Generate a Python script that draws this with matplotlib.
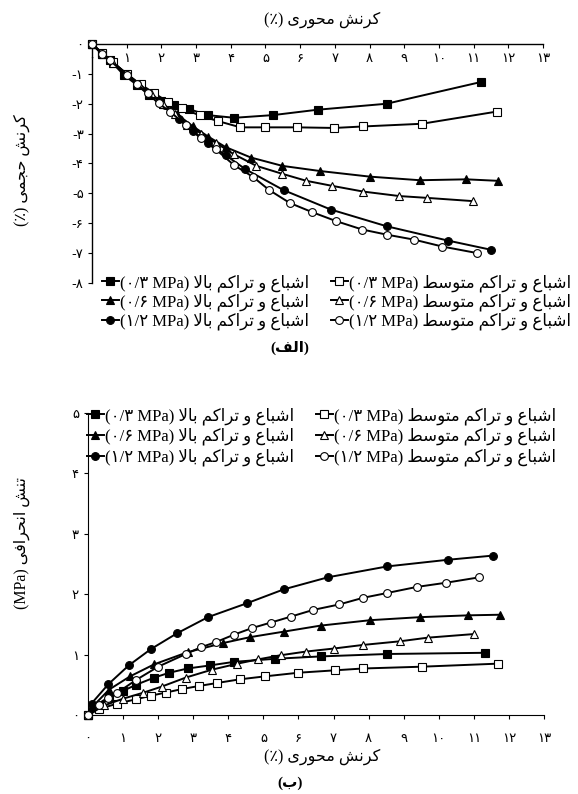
import matplotlib
matplotlib.use('Agg')
import matplotlib.pyplot as plt
from matplotlib import font_manager, ft2font

# ---------------- data ----------------
# top chart (الف): volumetric strain (%) vs axial strain (%)
top_high_03_x = [0, 0.28, 0.52, 0.93, 1.31, 1.63, 2.0, 2.35, 2.8, 3.33, 4.1, 5.22, 6.5, 8.49, 11.22]
top_high_03_y = [0, -0.33, -0.55, -1.05, -1.38, -1.7, -1.92, -2.05, -2.18, -2.38, -2.47, -2.38, -2.2, -2.0, -1.27]
top_med_03_x = [0, 0.3, 0.6, 1.0, 1.4, 1.8, 2.2, 2.6, 3.1, 3.63, 4.28, 4.98, 5.92, 6.99, 7.82, 9.51, 11.68]
top_med_03_y = [0, -0.3, -0.6, -1.0, -1.35, -1.65, -1.95, -2.15, -2.39, -2.58, -2.79, -2.79, -2.79, -2.81, -2.76, -2.67, -2.26]
top_high_06_x = [0, 0.3, 0.6, 1.0, 1.35, 1.7, 2.05, 2.45, 2.9, 3.35, 3.85, 4.58, 5.49, 6.56, 8.01, 9.45, 10.79, 11.70]
top_high_06_y = [0, -0.33, -0.62, -1.02, -1.35, -1.68, -2.0, -2.35, -2.75, -3.1, -3.45, -3.8, -4.08, -4.25, -4.44, -4.56, -4.53, -4.58]
top_med_06_x = [0, 0.3, 0.6, 1.0, 1.35, 1.7, 2.05, 2.4, 2.75, 3.15, 3.56, 4.09, 4.74, 5.47, 6.18, 6.93, 7.82, 8.86, 9.65, 10.99]
top_med_06_y = [0, -0.32, -0.62, -1.0, -1.33, -1.65, -2.0, -2.35, -2.7, -3.0, -3.3, -3.69, -4.08, -4.34, -4.58, -4.75, -4.94, -5.09, -5.15, -5.26]
top_high_12_x = [0, 0.3, 0.6, 1.0, 1.35, 1.7, 2.1, 2.5, 2.9, 3.33, 3.85, 4.42, 5.52, 6.88, 8.49, 10.26, 11.51]
top_high_12_y = [0, -0.32, -0.62, -1.0, -1.35, -1.68, -2.05, -2.5, -2.9, -3.3, -3.72, -4.19, -4.89, -5.54, -6.1, -6.58, -6.89]
top_med_12_x = [0, 0.28, 0.52, 1.0, 1.29, 1.6, 1.92, 2.26, 2.7, 3.13, 3.57, 4.1, 4.63, 5.11, 5.7, 6.35, 7.04, 7.79, 8.49, 9.29, 10.1, 11.11]
top_med_12_y = [0, -0.33, -0.55, -1.05, -1.33, -1.65, -1.99, -2.27, -2.72, -3.15, -3.53, -4.06, -4.44, -4.89, -5.32, -5.63, -5.93, -6.21, -6.38, -6.55, -6.78, -7.0]

# bottom chart (ب): deviatoric stress (MPa) vs axial strain (%)
bot_high_03_x = [0, 0.2, 0.6, 1.0, 1.37, 1.89, 2.32, 2.84, 3.47, 4.16, 5.32, 6.63, 8.53, 11.32]
bot_high_03_y = [0, 0.15, 0.3, 0.4, 0.5, 0.62, 0.7, 0.77, 0.82, 0.88, 0.93, 0.97, 1.01, 1.03]
bot_med_03_x = [0, 0.32, 0.84, 1.37, 1.79, 2.21, 2.68, 3.16, 3.68, 4.32, 5.05, 6.0, 7.05, 7.84, 9.53, 11.68]
bot_med_03_y = [0, 0.1, 0.19, 0.26, 0.32, 0.37, 0.43, 0.48, 0.53, 0.59, 0.64, 0.7, 0.74, 0.77, 0.8, 0.85]
bot_high_06_x = [0, 0.15, 0.6, 1.2, 1.89, 2.84, 3.84, 4.63, 5.58, 6.63, 8.05, 9.47, 10.84, 11.74]
bot_high_06_y = [0, 0.15, 0.42, 0.64, 0.84, 1.04, 1.19, 1.29, 1.38, 1.48, 1.57, 1.62, 1.65, 1.66]
bot_med_06_x = [0, 0.47, 1.0, 1.58, 2.1, 2.79, 3.53, 4.26, 4.84, 5.5, 6.21, 7.0, 7.84, 8.89, 9.68, 11.0]
bot_med_06_y = [0, 0.16, 0.27, 0.37, 0.47, 0.62, 0.75, 0.85, 0.92, 0.99, 1.05, 1.1, 1.16, 1.22, 1.28, 1.34]
bot_high_12_x = [0, 0.1, 0.58, 1.16, 1.79, 2.53, 3.42, 4.53, 5.58, 6.84, 8.53, 10.26, 11.56]
bot_high_12_y = [0, 0.19, 0.51, 0.82, 1.09, 1.35, 1.62, 1.85, 2.08, 2.28, 2.46, 2.57, 2.64]
bot_med_12_x = [0, 0.32, 0.58, 0.84, 1.37, 2.0, 2.79, 3.21, 3.66, 4.16, 4.68, 5.21, 5.79, 6.42, 7.16, 7.84, 8.53, 9.37, 10.21, 11.16]
bot_med_12_y = [0, 0.16, 0.28, 0.37, 0.58, 0.80, 1.01, 1.12, 1.21, 1.33, 1.44, 1.53, 1.63, 1.74, 1.83, 1.94, 2.02, 2.12, 2.19, 2.28]

x_ticks = list(range(0, 14))
x_tick_labels = ['۰', '۱', '۲', '۳', '۴', '۵', '۶', '۷', '۸', '۹', '۱۰', '۱۱', '۱۲', '۱۳']
top_y_ticks = [0, -1, -2, -3, -4, -5, -6, -7, -8]
top_y_tick_labels = ['۰', '-۱', '-۲', '-۳', '-۴', '-۵', '-۶', '-۷', '-۸']
bot_y_ticks = [0, 1, 2, 3, 4, 5]
bot_y_tick_labels = ['۰', '۱', '۲', '۳', '۴', '۵']

pressures = ['۰/۳', '۰/۶', '۱/۲']
level_high = 'اشباع و تراکم بالا'
level_med = 'اشباع و تراکم متوسط'
x_label_text = 'کرنش محوری'
top_y_label_text = 'کرنش حجمی'
bot_y_label_text = 'تنش انحرافی'
cap_top = 'الف'
cap_bot = 'ب'

# ---------------- Persian shaping (presentation forms, visual order) ----------------
dv_path = font_manager.findfont(font_manager.FontProperties(family='DejaVu Sans'))
cmap = ft2font.FT2Font(dv_path).get_charmap()

def ok(c):
    return ord(c) in cmap

FORMS = {
    'ا': ('\uFE8D', '\uFE8E', None, None),
    'ب': ('\uFE8F', '\uFE90', '\uFE91', '\uFE92'),
    'ت': ('\uFE95', '\uFE96', '\uFE97', '\uFE98'),
    'ج': ('\uFE9D', '\uFE9E', '\uFE9F', '\uFEA0'),
    'ح': ('\uFEA1', '\uFEA2', '\uFEA3', '\uFEA4'),
    'ر': ('\uFEAD', '\uFEAE', None, None),
    'س': ('\uFEB1', '\uFEB2', '\uFEB3', '\uFEB4'),
    'ش': ('\uFEB5', '\uFEB6', '\uFEB7', '\uFEB8'),
    'ط': ('\uFEC1', '\uFEC2', '\uFEC3', '\uFEC4'),
    'ع': ('\uFEC9', '\uFECA', '\uFECB', '\uFECC'),
    'ف': ('\uFED1', '\uFED2', '\uFED3', '\uFED4'),
    'ل': ('\uFEDD', '\uFEDE', '\uFEDF', '\uFEE0'),
    'م': ('\uFEE1', '\uFEE2', '\uFEE3', '\uFEE4'),
    'ن': ('\uFEE5', '\uFEE6', '\uFEE7', '\uFEE8'),
    'و': ('\uFEED', '\uFEEE', None, None),
    'ک': ('\uFB8E', '\uFB8F', '\uFB90', '\uFB91'),
    'ی': ('\uFBFC', '\uFBFD', '\uFBFE', '\uFBFF'),
}
FALLBACK = {
    'ک': ('\uFED9', '\uFEDA', '\uFEDB', '\uFEDC'),
    'ی': ('\uFEEF', '\uFEF0', '\uFEF3', '\uFEF4'),
}
for k, fb in FALLBACK.items():
    if not all(ok(g) for g in FORMS[k]):
        FORMS[k] = fb


def dual(c):
    return c in FORMS and FORMS[c][2] is not None


def vis(text):
    ch = list(text)
    n = len(ch)
    res = []
    i = 0
    while i < n:
        c = ch[i]
        if c not in FORMS:
            res.append(c)
            i += 1
            continue
        prev = ch[i - 1] if i > 0 else None
        jp = prev is not None and dual(prev)
        if c == 'ل' and i + 1 < n and ch[i + 1] == 'ا':
            res.append('\uFEFC' if jp else '\uFEFB')
            i += 2
            continue
        nxt = ch[i + 1] if i + 1 < n else None
        jn = dual(c) and nxt is not None and nxt in FORMS
        iso, fin, ini, med = FORMS[c]
        if jp and jn:
            g = med
        elif jp:
            g = fin
        elif jn:
            g = ini
        else:
            g = iso
        res.append(g)
        i += 1
    return ''.join(reversed(res))

PCT = '٪' if ok('٪') else '%'
FAM = ['Liberation Serif', 'DejaVu Sans']
PFAM = ['DejaVu Sans']

# ---------------- figure ----------------
W, H = 578, 794
fig = plt.figure(figsize=(W / 100, H / 100), dpi=100)
fig.patch.set_facecolor('white')

def fx(px):
    return px / W

def fy(py):
    return 1 - py / H

ax1 = fig.add_axes([fx(92), fy(283), fx(543) - fx(92), fy(44) - fy(283)])
ax2 = fig.add_axes([fx(88), fy(715), fx(544) - fx(88), fy(413) - fy(715)])

styles = {
    'high': dict(mfc='black'),
    'med': dict(mfc='white'),
}
markers = {'03': 's', '06': '^', '12': 'o'}

top_series = [
    ('high', '03', top_high_03_x, top_high_03_y),
    ('high', '06', top_high_06_x, top_high_06_y),
    ('high', '12', top_high_12_x, top_high_12_y),
    ('med', '03', top_med_03_x, top_med_03_y),
    ('med', '06', top_med_06_x, top_med_06_y),
    ('med', '12', top_med_12_x, top_med_12_y),
]
bot_series = [
    ('high', '03', bot_high_03_x, bot_high_03_y),
    ('high', '06', bot_high_06_x, bot_high_06_y),
    ('high', '12', bot_high_12_x, bot_high_12_y),
    ('med', '03', bot_med_03_x, bot_med_03_y),
    ('med', '06', bot_med_06_x, bot_med_06_y),
    ('med', '12', bot_med_12_x, bot_med_12_y),
]
pkey = {'03': 0, '06': 1, '12': 2}


def label_for(level, p):
    base = level_high if level == 'high' else level_med
    return '(' + pressures[pkey[p]] + ' MPa) ' + vis(base)


def draw(ax, series):
    hs = []
    for level, p, xs, ys in series:
        ms = 5.3 if markers[p] == 's' else 5.6
        h, = ax.plot(xs, ys, color='black', lw=1.4, marker=markers[p], ms=ms,
                     mec='black', mew=0.8, clip_on=False, zorder=3,
                     label=label_for(level, p), **styles[level])
        hs.append(h)
    return hs

h1 = draw(ax1, top_series)
h2 = draw(ax2, bot_series)

# top axes styling
ax1.set_xlim(0, 13)
ax1.set_ylim(-8, 0)
for s in ['bottom', 'right']:
    ax1.spines[s].set_visible(False)
for s in ['top', 'left']:
    ax1.spines[s].set_linewidth(1.0)
ax1.set_xticks(x_ticks)
ax1.set_xticklabels(x_tick_labels, fontfamily=PFAM, fontsize=9.5)
ax1.tick_params(axis='x', top=True, bottom=False, labeltop=True, labelbottom=False,
                direction='in', length=3, pad=-15)
ax1.set_yticks(top_y_ticks)
ax1.set_yticklabels(top_y_tick_labels, fontfamily=PFAM, fontsize=9.5)
ax1.tick_params(axis='y', direction='out', length=3, pad=3)

# bottom axes styling
ax2.set_xlim(0, 13)
ax2.set_ylim(0, 5)
for s in ['top', 'right']:
    ax2.spines[s].set_visible(False)
ax2.set_xticks(x_ticks)
ax2.set_xticklabels(x_tick_labels, fontfamily=PFAM, fontsize=9.5)
ax2.set_yticks(bot_y_ticks)
ax2.set_yticklabels(bot_y_tick_labels, fontfamily=PFAM, fontsize=9.5)
ax2.tick_params(axis='both', direction='out', length=3)
ax2.tick_params(axis='x', pad=9)

# axis labels
xl = '(' + PCT + ') ' + vis(x_label_text)
fig.text(fx(322), fy(20), xl, ha='center', va='center', fontsize=11.5, fontfamily=FAM)
fig.text(fx(322), fy(757), xl, ha='center', va='center', fontsize=11.5, fontfamily=FAM)
fig.text(fx(22), fy(170), '(' + PCT + ') ' + vis(top_y_label_text), rotation=90,
         ha='center', va='center', fontsize=11.5, fontfamily=FAM)
fig.text(fx(22), fy(543), '(MPa) ' + vis(bot_y_label_text), rotation=90,
         ha='center', va='center', fontsize=11.5, fontfamily=FAM)

# captions
fig.text(fx(290), fy(348), '(' + vis(cap_top) + ')', ha='center', va='center',
         fontsize=11, fontfamily=FAM, fontweight='bold')
fig.text(fx(290), fy(783), '(' + vis(cap_bot) + ')', ha='center', va='center',
         fontsize=11, fontfamily=FAM, fontweight='bold')

leg_kw = dict(ncol=2, frameon=False, markerfirst=True, handlelength=1.0,
              handletextpad=0.1, columnspacing=1.3, labelspacing=0.1,
              borderpad=0, borderaxespad=0, prop=dict(family=FAM, size=12))
fig.legend(handles=h1, loc='upper left', bbox_to_anchor=(fx(102), fy(274)), **leg_kw)
leg_kw2 = dict(leg_kw, labelspacing=0.2)
fig.legend(handles=h2, loc='upper left', bbox_to_anchor=(fx(87), fy(407)), **leg_kw2)

fig.savefig('out.png', dpi=100, facecolor='white')
